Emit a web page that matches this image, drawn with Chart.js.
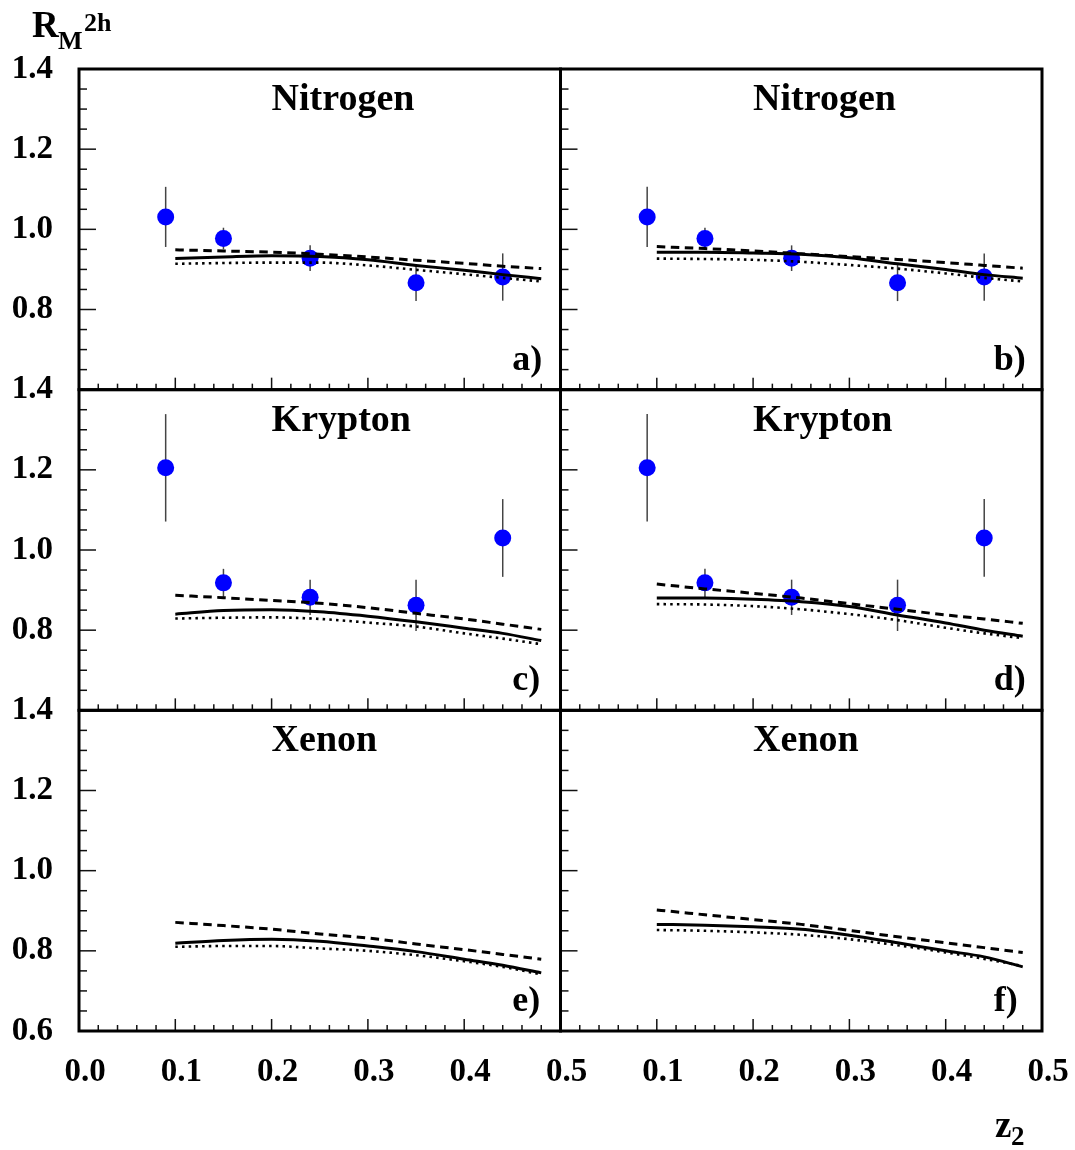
<!DOCTYPE html>
<html>
<head>
<meta charset="utf-8">
<script src="https://cdn.jsdelivr.net/npm/chart.js@4.4.1/dist/chart.umd.min.js"></script>
<style>
html,body{margin:0;padding:0;background:#fff;}
#wrap{position:relative;width:1075px;height:1150px;overflow:hidden;}
#wrap canvas{position:absolute;left:0;top:0;}
</style>
</head>
<body>
<div id="wrap"></div>
<script>
// ---------------- data ----------------
const zPoints = [0.09, 0.15, 0.24, 0.35, 0.44];
const nitrogenR   = [1.031, 0.977, 0.928, 0.867, 0.881];
const nitrogenErr = [0.075, 0.027, 0.032, 0.046, 0.059];
const kryptonR    = [1.205, 0.918, 0.882, 0.862, 1.030];
const kryptonErr  = [0.134, 0.035, 0.044, 0.064, 0.097];

const zCurve = [0.10, 0.15, 0.20, 0.25, 0.30, 0.35, 0.40, 0.44, 0.48];
// panel a) Nitrogen
const aSolid  = [0.927, 0.931, 0.934, 0.932, 0.924, 0.910, 0.898, 0.887, 0.877];
const aDashed = [0.949, 0.946, 0.943, 0.938, 0.931, 0.923, 0.915, 0.908, 0.902];
const aDotted = [0.914, 0.916, 0.917, 0.917, 0.910, 0.899, 0.888, 0.879, 0.870];
// panel b) Nitrogen
const bSolid  = [0.943, 0.943, 0.941, 0.938, 0.929, 0.914, 0.900, 0.887, 0.878];
const bDashed = [0.957, 0.952, 0.946, 0.939, 0.932, 0.925, 0.917, 0.910, 0.903];
const bDotted = [0.927, 0.926, 0.924, 0.919, 0.911, 0.902, 0.890, 0.879, 0.870];
// panel c) Krypton
const cSolid  = [0.840, 0.849, 0.851, 0.846, 0.835, 0.821, 0.805, 0.792, 0.774];
const cDashed = [0.887, 0.881, 0.874, 0.867, 0.856, 0.842, 0.828, 0.815, 0.802];
const cDotted = [0.829, 0.831, 0.832, 0.828, 0.819, 0.809, 0.792, 0.779, 0.765];
// panel d) Krypton
const dSolid  = [0.880, 0.880, 0.877, 0.871, 0.859, 0.838, 0.818, 0.800, 0.785];
const dDashed = [0.915, 0.903, 0.892, 0.880, 0.866, 0.852, 0.838, 0.828, 0.817];
const dDotted = [0.865, 0.864, 0.860, 0.852, 0.840, 0.825, 0.806, 0.792, 0.780];
// panel e) Xenon
const eSolid  = [0.819, 0.826, 0.829, 0.824, 0.812, 0.798, 0.779, 0.764, 0.745];
const eDashed = [0.871, 0.863, 0.854, 0.842, 0.832, 0.817, 0.803, 0.791, 0.779];
const eDotted = [0.810, 0.812, 0.812, 0.806, 0.800, 0.789, 0.774, 0.760, 0.741];
// panel f) Xenon
const fSolid  = [0.866, 0.864, 0.860, 0.854, 0.839, 0.820, 0.800, 0.785, 0.760];
const fDashed = [0.902, 0.890, 0.878, 0.866, 0.851, 0.835, 0.820, 0.808, 0.796];
const fDotted = [0.852, 0.850, 0.846, 0.840, 0.829, 0.814, 0.796, 0.780, 0.762];

const xTickLabels = ['0.0', '0.1', '0.2', '0.3', '0.4', '0.5'];
const yTickLabels = ['0.6', '0.8', '1.0', '1.2', '1.4'];
const panelTitles  = ['Nitrogen', 'Nitrogen', 'Krypton', 'Krypton', 'Xenon', 'Xenon'];
const panelLetters = ['a)', 'b)', 'c)', 'd)', 'e)', 'f)'];

// ---------------- layout ----------------
const W = 1075, H = 1150;
const COL_LEFT = [79, 560.5], COL_W = 481.5;
const ROW_TOP = [69, 389.67, 710.33], ROW_H = 320.67;
const Y_AXIS_W = 79, X_AXIS_H = 80;
const SERIF = '"Liberation Serif", "DejaVu Serif", serif';

const panels = [
  {row:0, col:0, solid:aSolid, dashed:aDashed, dotted:aDotted, pts:nitrogenR, err:nitrogenErr},
  {row:0, col:1, solid:bSolid, dashed:bDashed, dotted:bDotted, pts:nitrogenR, err:nitrogenErr},
  {row:1, col:0, solid:cSolid, dashed:cDashed, dotted:cDotted, pts:kryptonR, err:kryptonErr},
  {row:1, col:1, solid:dSolid, dashed:dDashed, dotted:dDotted, pts:kryptonR, err:kryptonErr},
  {row:2, col:0, solid:eSolid, dashed:eDashed, dotted:eDotted, pts:null, err:null},
  {row:2, col:1, solid:fSolid, dashed:fDashed, dotted:fDotted, pts:null, err:null}
];

function toXY(xs, ys) { return xs.map((x, i) => ({x: x, y: ys[i]})); }
function noScalePadding(s) { s.paddingLeft = 0; s.paddingRight = 0; s.paddingTop = 0; s.paddingBottom = 0; }

const decorPlugin = {
  id: 'decor',
  beforeDatasetsDraw(chart, args, opts) {
    const ctx = chart.ctx, xs = chart.scales.x, ys = chart.scales.y;
    if (opts.pts) {
      ctx.save();
      ctx.strokeStyle = '#444';
      ctx.lineWidth = 1.5;
      opts.pts.forEach((v, i) => {
        const px = xs.getPixelForValue(zPoints[i]);
        ctx.beginPath();
        ctx.moveTo(px, ys.getPixelForValue(v + opts.err[i]));
        ctx.lineTo(px, ys.getPixelForValue(v - opts.err[i]));
        ctx.stroke();
      });
      ctx.restore();
    }
  },
  afterDraw(chart, args, opts) {
    const ctx = chart.ctx, xs = chart.scales.x, ys = chart.scales.y;
    const a = chart.chartArea;
    ctx.save();
    // inner tick marks
    ctx.strokeStyle = '#111';
    ctx.lineWidth = 1.5;
    for (let k = 1; k < 25; k++) {
      const px = xs.getPixelForValue(k * 0.02);
      const len = (k % 5 === 0) ? 12 : 6;
      ctx.beginPath(); ctx.moveTo(px, a.bottom); ctx.lineTo(px, a.bottom - len); ctx.stroke();
    }
    for (let k = 1; k < 16; k++) {
      const py = ys.getPixelForValue(0.6 + k * 0.05);
      const len = (k % 4 === 0) ? 17 : 8;
      ctx.beginPath(); ctx.moveTo(a.left, py); ctx.lineTo(a.left + len, py); ctx.stroke();
    }
    // frame
    ctx.lineWidth = 3;
    ctx.strokeStyle = '#000';
    ctx.strokeRect(a.left, a.top, a.right - a.left, a.bottom - a.top);
    // texts
    ctx.fillStyle = '#000';
    ctx.textAlign = 'left';
    ctx.textBaseline = 'alphabetic';
    ctx.font = 'bold 38px ' + SERIF;
    ctx.fillText(opts.title, xs.getPixelForValue(0.2), a.top + 41);
    ctx.font = 'bold 36px ' + SERIF;
    ctx.fillText(opts.letter, xs.getPixelForValue(0.45), a.bottom - 20);
    if (opts.yTitle) {
      ctx.font = 'bold 37px ' + SERIF;
      ctx.fillText('R', 32, 37);
      ctx.font = 'bold 26px ' + SERIF;
      ctx.fillText('M', 58, 49);
      ctx.fillText('2h', 84, 31);
    }
    if (opts.xTitle) {
      ctx.font = 'bold 37px ' + SERIF;
      ctx.fillText('z', 995, 1137);
      ctx.font = 'bold 27px ' + SERIF;
      ctx.fillText('2', 1011, 1145);
    }
    ctx.restore();
  }
};

const wrap = document.getElementById('wrap');

panels.forEach((p, idx) => {
  const cv = document.createElement('canvas');
  cv.width = W; cv.height = H;
  cv.style.width = W + 'px'; cv.style.height = H + 'px';
  wrap.appendChild(cv);

  const left = COL_LEFT[p.col], right = left + COL_W;
  const top = ROW_TOP[p.row], bottom = top + ROW_H;

  const datasets = [
    {data: toXY(zCurve, p.solid), borderColor: '#000', borderWidth: 3, pointRadius: 0, cubicInterpolationMode: 'monotone', fill: false},
    {data: toXY(zCurve, p.dashed), borderColor: '#000', borderWidth: 3, borderDash: [8.5, 5.5], pointRadius: 0, cubicInterpolationMode: 'monotone', fill: false},
    {data: toXY(zCurve, p.dotted), borderColor: '#000', borderWidth: 2.6, borderDash: [2.5, 4.2], pointRadius: 0, cubicInterpolationMode: 'monotone', fill: false}
  ];
  if (p.pts) {
    datasets.push({data: toXY(zPoints, p.pts), showLine: false, pointRadius: 8.5, pointBackgroundColor: '#0000ff', pointBorderColor: '#0000ff', pointBorderWidth: 0, borderWidth: 0});
  }

  new Chart(cv, {
    type: 'line',
    data: {datasets: datasets},
    options: {
      responsive: false,
      animation: false,
      devicePixelRatio: 1,
      events: [],
      layout: {
        autoPadding: false,
        padding: {left: left - Y_AXIS_W, right: W - right, top: top, bottom: H - bottom - X_AXIS_H}
      },
      plugins: {
        legend: {display: false},
        tooltip: {enabled: false},
        decor: {title: panelTitles[idx], letter: panelLetters[idx], pts: p.pts, err: p.err,
                yTitle: idx === 0, xTitle: idx === 5}
      },
      scales: {
        x: {
          type: 'linear', min: 0, max: 0.5, position: 'bottom',
          grid: {display: false, drawTicks: false},
          border: {display: false},
          afterFit: s => { s.height = X_AXIS_H; noScalePadding(s); },
          ticks: {
            stepSize: 0.1, autoSkip: false, maxRotation: 0, minRotation: 0, padding: 22, labelOffset: 6,
            color: '#000', font: {family: SERIF, weight: 'bold', size: 33},
            callback: v => {
              if (p.row !== 2) return '';
              const s = Number(v).toFixed(1);
              if (p.col === 1 && s === '0.0') return '';
              return xTickLabels.includes(s) ? s : '';
            }
          }
        },
        y: {
          type: 'linear', min: 0.6, max: 1.4, position: 'left',
          grid: {display: false, drawTicks: false},
          border: {display: false},
          afterFit: s => { s.width = Y_AXIS_W; noScalePadding(s); },
          ticks: {
            stepSize: 0.2, autoSkip: false, padding: 26,
            color: '#000', font: {family: SERIF, weight: 'bold', size: 33},
            callback: v => {
              if (p.col !== 0) return '';
              const s = Number(v).toFixed(1);
              if (s === '0.6' && p.row !== 2) return '';
              return yTickLabels.includes(s) ? s : '';
            }
          }
        }
      }
    },
    plugins: [decorPlugin]
  });
});
</script>
</body>
</html>
